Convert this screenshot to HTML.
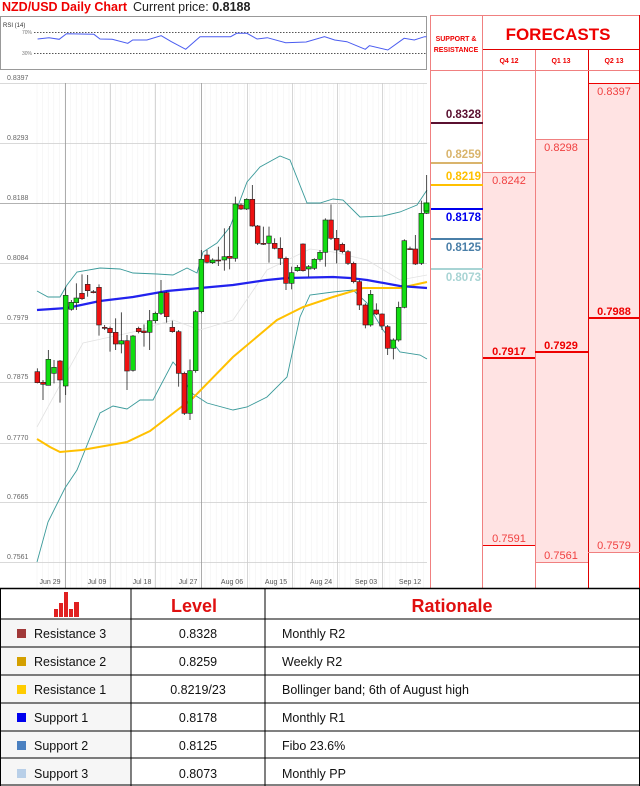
<!DOCTYPE html>
<html><head><meta charset="utf-8"><style>
html,body{margin:0;padding:0;background:#fff;}
body{width:640px;height:786px;position:relative;overflow:hidden;font-family:"Liberation Sans",sans-serif;}
svg{position:absolute;left:0;top:0;}
</style></head><body>
<svg id="s" width="640" height="786" xmlns="http://www.w3.org/2000/svg" font-family="Liberation Sans, sans-serif">
<text x="2" y="11" font-size="12.5" font-weight="bold" fill="#e00">NZD/USD Daily Chart</text>
<text x="133" y="11" font-size="12.5" fill="#222">Current price: <tspan font-weight="bold">0.8188</tspan></text>
<rect x="0.5" y="16.5" width="426" height="53" fill="#fff" stroke="#999"/>
<text x="3" y="27" font-size="6" fill="#333">RSI (14)</text>
<line x1="34" y1="32.5" x2="426" y2="32.5" stroke="#555" stroke-dasharray="1.5,1.5"/>
<line x1="34" y1="53.5" x2="426" y2="53.5" stroke="#555" stroke-dasharray="1.5,1.5"/>
<text x="22" y="34" font-size="5" fill="#777">70%</text>
<text x="22" y="55" font-size="5" fill="#777">30%</text>
<polyline id="rsi" fill="none" stroke="#4a5cf0" stroke-width="1"/>
<g id="grid"></g>
<g id="ind"></g>
<g id="cdl"></g>
<g id="right"></g>
<g id="tbl"></g>
</svg>
<script>
const NS="http://www.w3.org/2000/svg";
function el(p,t,a,txt){const e=document.createElementNS(NS,t);for(const k in a)e.setAttribute(k,a[k]);if(txt!==undefined)e.textContent=txt;document.getElementById(p).appendChild(e);return e;}
const rp=[[92,117],[120,113],[145,118],[163,101],[230,103],[245,117],[275,118],[313,130],[325,120],[360,120],[395,107],[420,125],[455,148],[490,110],[565,110],[580,100],[605,100],[630,117],[655,113],[700,128],[750,126],[795,110],[820,120],[850,125],[895,148],[905,137],[950,150],[990,115],[1015,120],[1040,110],[1045,110]];
document.getElementById('rsi').setAttribute('points',rp.map(p=>(p[0]/2.45).toFixed(1)+','+(p[1]/3).toFixed(1)).join(' '));
const labs=[["0.8397",83],["0.8293",143],["0.8188",203],["0.8084",263],["0.7979",323],["0.7875",382],["0.7770",443],["0.7665",502],["0.7561",562]];
for(let x=37;x<427;x+=5.6){el('grid','line',{x1:x,y1:83,x2:x,y2:588,stroke:'#f2f2f2','stroke-width':0.6});}
labs.forEach(l=>{el('grid','line',{x1:0,y1:l[1]+.5,x2:427,y2:l[1]+.5,stroke:l[0]=="0.8188"?'#999':'#ccc','stroke-width':l[0]=="0.8188"?0.8:0.7});
el('grid','text',{x:7,y:l[1]-3,'font-size':7,fill:'#666'},l[0]);});
[65,110,155,201,247,292,337,382].forEach(x=>el('grid','line',{x1:x+.5,y1:83,x2:x+.5,y2:588,stroke:(x==65||x==201)?'#999':'#ccc','stroke-width':0.8}));
const dl=[["Jun 29",50],["Jul 09",97],["Jul 18",142],["Jul 27",188],["Aug 06",232],["Aug 15",276],["Aug 24",321],["Sep 03",366],["Sep 12",410]];
dl.forEach(d=>el('grid','text',{x:d[1],y:584,'font-size':7,fill:'#555','text-anchor':'middle'},d[0]));
function line(pts,col,w){el('ind','polyline',{points:pts.map(p=>p.join(',')).join(' '),fill:'none',stroke:col,'stroke-width':w});}
line([[37,427],[83,343],[133,332],[173,320],[200,330],[233,320],[267,270],[310,249],[333,252],[367,260],[400,280],[427,275]],'#e2e2e2',0.8);
line([[37,291],[48,297],[60,297],[67,285],[77,272],[100,268],[120,269],[133,273],[157,274],[173,275],[187,268],[197,273],[203,252],[217,243],[230,227],[247,182],[260,167],[280,156],[290,160],[307,203],[320,203],[333,199],[343,200],[360,217],[383,216],[400,212],[417,205],[427,190]],'#3a9a9a',0.9);
line([[37,562],[48,522],[65,488],[77,470],[100,413],[113,406],[127,409],[140,400],[153,400],[173,362],[180,370],[190,392],[207,403],[233,410],[247,407],[267,397],[287,377],[300,317],[310,295],[333,292],[353,290],[367,303],[383,330],[400,352],[420,355],[427,359]],'#3a9a9a',0.9);
line([[37,439],[50,447],[60,452],[82,450],[127,442],[150,431],[167,418],[193,398],[233,357],[277,320],[303,307],[333,297],[363,288],[400,288],[427,282]],'#ffc000',2);
line([[37,310],[67,308],[100,301],[133,297],[167,291],[200,288],[233,285],[267,280],[287,278],[333,277],[350,278],[367,280],[400,286],[427,288]],'#2222ee',2.2);
const C=[[112,665,698,655,700],[129,697,703,690,750],[145,706,628,600,706],[162,670,652,630,700],[180,633,690,630,758],[197,708,436,410,735],[214,478,457,450,482],[229,458,444,400,480],[246,430,446,373,450],[263,403,422,375,440],[280,425,426,420,430],[297,412,525,403,557],[314,532,535,525,540],[330,535,548,530,605],[347,547,582,505,600],[364,582,572,487,610],[381,572,663,555,720],[399,661,558,555,665],[416,535,545,530,550],[432,543,548,523,590],[449,547,512,480,600],[466,512,490,485,520],[483,490,428,390,495],[500,428,500,425,518],[517,532,545,512,548],[536,545,670,540,710],[553,670,790,665,795],[570,790,662,628,810],[587,662,485,480,668],[604,485,328,300,490],[621,315,337,300,340],[638,338,330,325,342],[655,330,331,290,348],[673,330,320,235,362],[689,319,325,228,358],[706,325,162,140,335],[723,165,177,160,180],[740,177,148,145,180],[757,148,228,105,230],[773,228,280,225,285],[790,280,281,230,285],[807,280,258,230,338],[824,280,295,265,298],[841,295,325,262,345],[858,325,400,320,420],[875,400,368,350,418],[892,362,352,345,365],[909,282,362,280,365],[926,357,350,345,380],[943,355,328,325,360],[960,328,307,300,335],[976,307,210,205,350],[993,210,265,163,270],[1010,265,300,240,340],[1027,283,305,278,310],[1044,305,340,300,345],[1061,340,395,335,400],[1078,395,465,390,480],[1096,465,525,460,535],[1112,525,433,420,530],[1129,480,492,460,495],[1146,492,528,490,540],[1163,530,595,525,615],[1180,595,570,565,628],[1196,570,472,455,575],[1213,472,272,268,475],[1230,296,298,290,300],[1246,297,342,255,345],[1264,340,190,152,345],[1280,190,160,75,192]];
C.forEach(c=>{const x=c[0]/3,o=150+c[1]/3,cl=150+c[2]/3,h=150+c[3]/3,l=150+c[4]/3;
el('cdl','line',{x1:x,y1:h,x2:x,y2:l,stroke:'#222','stroke-width':0.8});
const top=Math.min(o,cl),ht=Math.max(Math.abs(o-cl),1);
el('cdl','rect',{x:x-2.4,y:top,width:4.8,height:ht,fill:cl<o?'#11dd11':'#ee1111',stroke:'#222','stroke-width':0.6});});
const R='right';
el(R,'rect',{x:483,y:172,width:52,height:373,fill:'#ffe3e3'});
el(R,'rect',{x:535,y:139,width:53,height:423,fill:'#ffe3e3'});
el(R,'rect',{x:588,y:83,width:52,height:469,fill:'#ffe3e3'});
el(R,'line',{x1:430.5,y1:15,x2:430.5,y2:589,stroke:'#f08080'});
el(R,'line',{x1:482.5,y1:15,x2:482.5,y2:589,stroke:'#f08080'});
el(R,'line',{x1:535.5,y1:50,x2:535.5,y2:589,stroke:'#f08080'});
el(R,'line',{x1:588.5,y1:50,x2:588.5,y2:589,stroke:'#e00000'});
el(R,'line',{x1:430,y1:15.5,x2:640,y2:15.5,stroke:'#f08080'});
el(R,'line',{x1:430,y1:70.5,x2:640,y2:70.5,stroke:'#f08080'});
el(R,'line',{x1:483,y1:49.5,x2:640,y2:49.5,stroke:'#e00000'});
el(R,'line',{x1:639.5,y1:15,x2:639.5,y2:589,stroke:'#e00000'});
el(R,'text',{x:456,y:41,'font-size':7,'font-weight':'bold',fill:'#e00','text-anchor':'middle'},'SUPPORT &');
el(R,'text',{x:456,y:52,'font-size':7,'font-weight':'bold',fill:'#e00','text-anchor':'middle'},'RESISTANCE');
el(R,'text',{x:558,y:40,'font-size':17,'font-weight':'bold',fill:'#e00','text-anchor':'middle'},'FORECASTS');
[['Q4 12',509],['Q1 13',561],['Q2 13',614]].forEach(q=>el(R,'text',{x:q[1],y:63,'font-size':7,'font-weight':'bold',fill:'#e00','text-anchor':'middle'},q[0]));
[[123,'#5a1030','0.8328',-5],[163,'#d9b46c','0.8259',-5],[185,'#ffc000','0.8219',-5],[209,'#0000ee','0.8178',12],[239,'#4a7fa8','0.8125',12],[269,'#a8d4d4','0.8073',12]].forEach(s=>{
el(R,'line',{x1:431,y1:s[0],x2:483,y2:s[0],stroke:s[1],'stroke-width':2});
el(R,'text',{x:481,y:s[0]+s[3],'font-size':11.5,'font-weight':'bold',fill:s[1],'text-anchor':'end'},s[2]);});
el(R,'rect',{x:424,y:203,width:5,height:8,fill:'#11dd11',stroke:'#060'});
function fl(x1,x2,y,c,w){el(R,'line',{x1:x1,y1:y,x2:x2,y2:y,stroke:c,'stroke-width':w});}
function ft(x,y,t,b){el(R,'text',{x:x,y:y,'font-size':11,'font-weight':b?'bold':'normal',fill:b?'#e00':'#f04040','text-anchor':'middle'},t);}
fl(483,535,172.5,'#f08080',1);ft(509,184,'0.8242');
fl(535,588,139.5,'#f08080',1);ft(561,151,'0.8298');
fl(588,640,83.5,'#e00',1);ft(614,95,'0.8397');
fl(483,535,358,'#e00',2);ft(509,355,'0.7917',1);
fl(535,588,352,'#e00',2);ft(561,349,'0.7929',1);
fl(588,640,318,'#e00',2);ft(614,315,'0.7988',1);
fl(483,535,545.5,'#e00',1);ft(509,542,'0.7591');
fl(535,588,562.5,'#f08080',1);ft(561,559,'0.7561');
fl(588,640,552.5,'#f08080',1);ft(614,549,'0.7579');
const T='tbl';
el(T,'rect',{x:0,y:588,width:640,height:198,fill:'#fff'});
el(T,'rect',{x:0,y:619,width:131,height:167,fill:'#f6f6f6'});
[588.5,619,647,675,703,731,758,785].forEach(y=>el(T,'line',{x1:0,y1:y,x2:640,y2:y,stroke:'#000','stroke-width':y==588.5?1.5:1}));
[0.5,131,265,639.5].forEach(x=>el(T,'line',{x1:x,y1:588,x2:x,y2:786,stroke:'#000','stroke-width':1}));
[[54,609,4],[59,603,4],[64,592,4],[69,609,4],[74,602,5]].forEach(b=>el(T,'rect',{x:b[0],y:b[1],width:b[2],height:617-b[1],fill:'#e02020'}));
el(T,'text',{x:194,y:612,'font-size':18,'font-weight':'bold',fill:'#e01010','text-anchor':'middle'},'Level');
el(T,'text',{x:452,y:612,'font-size':18,'font-weight':'bold',fill:'#e01010','text-anchor':'middle'},'Rationale');
const rows=[['#a03838','Resistance 3','0.8328','Monthly R2'],['#d4a000','Resistance 2','0.8259','Weekly R2'],['#ffcc00','Resistance 1','0.8219/23','Bollinger band; 6th of August high'],['#0000ee','Support 1','0.8178','Monthly R1'],['#4a80c0','Support 2','0.8125','Fibo 23.6%'],['#b8cfe8','Support 3','0.8073','Monthly PP']];
rows.forEach((r,i)=>{const y=638+i*28;
el(T,'rect',{x:17,y:y-9,width:9,height:9,fill:r[0]});
el(T,'text',{x:34,y:y,'font-size':12.5,fill:'#111'},r[1]);
el(T,'text',{x:198,y:y,'font-size':12.5,fill:'#111','text-anchor':'middle'},r[2]);
el(T,'text',{x:282,y:y,'font-size':12.5,fill:'#111'},r[3]);});
</script>
</body></html>
